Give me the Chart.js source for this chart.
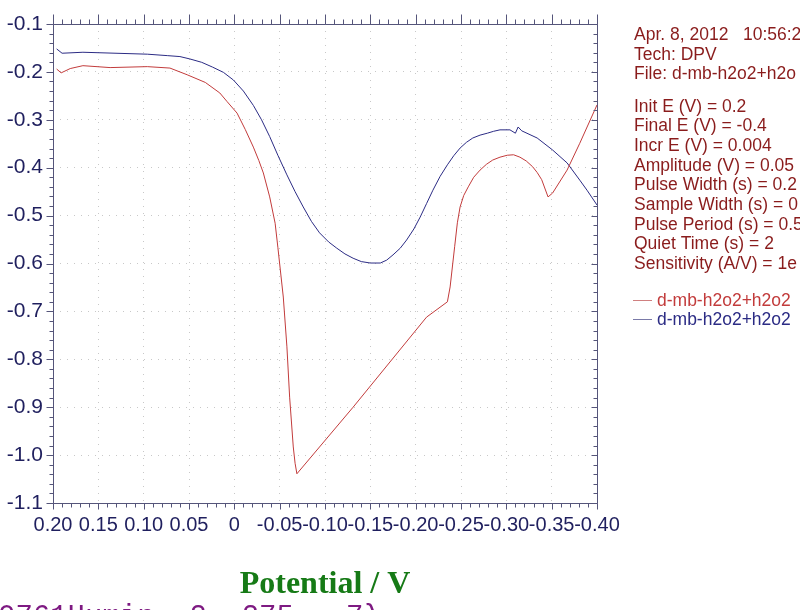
<!DOCTYPE html>
<html><head><meta charset="utf-8">
<script src="https://cdn.jsdelivr.net/npm/chart.js@4"></script>
<style>html,body{margin:0;padding:0;background:#fff;overflow:hidden}canvas{display:block}</style>
</head><body>
<canvas id="c" width="800" height="610"></canvas>
<script>
// ---- data (potential V, current) ----
const redV = [0.196, 0.191, 0.181, 0.167, 0.137, 0.096, 0.071, 0.052, 0.032, 0.016, 0.008, -0.003, -0.012, -0.021, -0.027, -0.032, -0.039, -0.045, -0.048, -0.054, -0.058, -0.061, -0.065, -0.067, -0.069, -0.131, -0.212, -0.235, -0.238, -0.243, -0.246, -0.249, -0.253, -0.258, -0.264, -0.271, -0.278, -0.285, -0.293, -0.301, -0.308, -0.315, -0.322, -0.329, -0.334, -0.339, -0.346, -0.351, -0.367, -0.381, -0.400];
const redI = [-0.194, -0.202, -0.193, -0.187, -0.191, -0.189, -0.192, -0.206, -0.222, -0.244, -0.262, -0.286, -0.320, -0.357, -0.385, -0.411, -0.461, -0.516, -0.566, -0.670, -0.774, -0.879, -0.983, -1.017, -1.039, -0.900, -0.712, -0.680, -0.649, -0.565, -0.515, -0.482, -0.458, -0.440, -0.420, -0.405, -0.393, -0.384, -0.378, -0.374, -0.373, -0.378, -0.386, -0.398, -0.410, -0.425, -0.461, -0.453, -0.405, -0.349, -0.269];
const blueV = [0.196, 0.190, 0.167, 0.096, 0.074, 0.060, 0.049, 0.036, 0.024, 0.012, 0.001, -0.010, -0.021, -0.030, -0.039, -0.048, -0.058, -0.067, -0.076, -0.085, -0.094, -0.104, -0.113, -0.122, -0.131, -0.140, -0.150, -0.161, -0.168, -0.175, -0.183, -0.190, -0.198, -0.205, -0.212, -0.219, -0.227, -0.235, -0.242, -0.249, -0.256, -0.263, -0.271, -0.279, -0.286, -0.293, -0.304, -0.310, -0.313, -0.317, -0.334, -0.351, -0.367, -0.381, -0.389, -0.394, -0.400];
const blueI = [-0.152, -0.161, -0.159, -0.163, -0.166, -0.168, -0.173, -0.180, -0.190, -0.201, -0.217, -0.240, -0.270, -0.300, -0.335, -0.374, -0.415, -0.450, -0.482, -0.512, -0.536, -0.555, -0.568, -0.580, -0.589, -0.596, -0.599, -0.599, -0.593, -0.582, -0.568, -0.551, -0.528, -0.503, -0.475, -0.447, -0.418, -0.394, -0.375, -0.359, -0.347, -0.338, -0.332, -0.328, -0.324, -0.321, -0.321, -0.328, -0.315, -0.323, -0.338, -0.363, -0.390, -0.426, -0.447, -0.461, -0.478];

const xTickValues = [0.20, 0.15, 0.10, 0.05, 0, -0.05, -0.10, -0.15, -0.20, -0.25, -0.30, -0.35, -0.40];
const xTickLabels = ['0.20', '0.15', '0.10', '0.05', '0', '-0.05', '-0.10', '-0.15', '-0.20', '-0.25', '-0.30', '-0.35', '-0.40'];
const yTickValues = [-0.1, -0.2, -0.3, -0.4, -0.5, -0.6, -0.7, -0.8, -0.9, -1.0, -1.1];
const yTickLabels = ['-0.1', '-0.2', '-0.3', '-0.4', '-0.5', '-0.6', '-0.7', '-0.8', '-0.9', '-1.0', '-1.1'];

const seriesNames = ['d-mb-h2o2+h2o2 ', 'd-mb-h2o2+h2o2 '];
const headerLines = ['Apr. 8, 2012   10:56:2', 'Tech: DPV', 'File: d-mb-h2o2+h2o'];
const paramLines = ['Init E (V) = 0.2', 'Final E (V) = -0.4', 'Incr E (V) = 0.004', 'Amplitude (V) = 0.05', 'Pulse Width (s) = 0.2', 'Sample Width (s) = 0', 'Pulse Period (s) = 0.5', 'Quiet Time (s) = 2', 'Sensitivity (A/V) = 1e'];
const xTitle = 'Potential / V';
const footerText = '0761Humin  2, 275   7λ';

// ---- styles ----
const RED = '#c23b3b';
const BLUE = '#2b2b84';
const AXIS = '#55557a';
const TICKTXT = '#1f1f5e';
const INFO = '#8a1c1c';
const GRID = '#c8c8c8';

const toPts = (xs, ys) => xs.map((v, i) => ({x: v, y: ys[i]}));

const decor = {
  id: 'decor',
  afterDatasetsDraw(chart) {
    const {ctx, chartArea: a, scales: {x, y}} = chart;
    ctx.save();
    ctx.strokeStyle = AXIS;
    ctx.lineWidth = 1;
    ctx.beginPath();
    const L = Math.round(a.left) + 0.5, R = Math.round(a.right) + 0.5;
    const T = Math.round(a.top) + 0.5, B = Math.round(a.bottom) + 0.5;
    ctx.rect(L, T, R - L, B - T);
    const nx = Math.round((x.max - x.min) / 0.01);
    for (let i = 0; i <= nx; i++) {
      const v = x.min + i * 0.01;
      const px = Math.round(x.getPixelForValue(v)) + 0.5;
      const major = i % 5 === 0;
      ctx.moveTo(px, T); ctx.lineTo(px, T - (major ? 10 : 5));
      ctx.moveTo(px, B); ctx.lineTo(px, B + (major ? 6 : 4));
    }
    const ny = Math.round((y.max - y.min) / 0.02);
    for (let i = 0; i <= ny; i++) {
      const v = y.min + i * 0.02;
      const py = Math.round(y.getPixelForValue(v)) + 0.5;
      const major = i % 5 === 0;
      ctx.moveTo(L, py); ctx.lineTo(L - (major ? 7 : 4), py);
      ctx.moveTo(R, py); ctx.lineTo(R - (major ? 6 : 4), py);
    }
    ctx.stroke();

    // info panel
    ctx.font = '17.5px "Liberation Sans", Arial, sans-serif';
    ctx.fillStyle = INFO;
    ctx.textAlign = 'left';
    ctx.textBaseline = 'alphabetic';
    const tx = 634;
    headerLines.forEach((s, i) => ctx.fillText(s, tx, 40 + i * 19.6));
    paramLines.forEach((s, i) => ctx.fillText(s, tx, 111.5 + i * 19.7));

    // legend
    const cols = [RED, BLUE];
    const samp = ['#d08080', '#7a7aa8'];
    seriesNames.forEach((s, i) => {
      const by = 306 + i * 19;
      ctx.strokeStyle = samp[i];
      ctx.beginPath();
      ctx.moveTo(633, by - 5.5); ctx.lineTo(652, by - 5.5);
      ctx.stroke();
      ctx.fillStyle = cols[i];
      ctx.fillText(s, 657, by);
    });

    // footer (cut at bottom)
    ctx.font = '29px "Liberation Mono", "Courier New", monospace';
    ctx.fillStyle = '#7e1a82';
    ctx.fillText(footerText, -2, 625);
    ctx.restore();
  }
};

new Chart(document.getElementById('c'), {
  type: 'line',
  data: {
    datasets: [
      {label: seriesNames[0], data: toPts(redV, redI), borderColor: RED, borderWidth: 1, pointRadius: 0, tension: 0, fill: false},
      {label: seriesNames[1], data: toPts(blueV, blueI), borderColor: BLUE, borderWidth: 1, pointRadius: 0, tension: 0, fill: false}
    ]
  },
  options: {
    responsive: false,
    animation: false,
    devicePixelRatio: 1,
    layout: {padding: {left: 0, right: 203, top: 24, bottom: 0}},
    plugins: {legend: {display: false}, tooltip: {enabled: false}, title: {display: false}},
    scales: {
      x: {
        type: 'linear', reverse: true, min: -0.4, max: 0.2,
        afterBuildTicks: s => { s.ticks = xTickValues.map(v => ({value: v})); },
        afterFit: s => { s.height = 107; },
        ticks: {
          autoSkip: false, maxRotation: 0, minRotation: 0, padding: 10,
          color: TICKTXT,
          font: {family: '"Liberation Sans", Arial, sans-serif', size: 20},
          callback: (v, i) => xTickLabels[i]
        },
        grid: {color: GRID, drawTicks: false, lineWidth: 1},
        border: {display: false, dash: [1, 6]},
        title: {
          display: true, text: xTitle, color: '#167a16',
          font: {family: '"Liberation Serif", "Times New Roman", serif', size: 32, weight: 'bold'},
          padding: {top: 0, bottom: 6}
        }
      },
      y: {
        type: 'linear', min: -1.1, max: -0.1,
        afterBuildTicks: s => { s.ticks = yTickValues.map(v => ({value: v})); },
        afterFit: s => { s.width = 53; },
        ticks: {
          autoSkip: false, padding: 10, color: TICKTXT,
          font: {family: '"Liberation Sans", Arial, sans-serif', size: 21},
          callback: (v, i) => yTickLabels[i]
        },
        grid: {color: GRID, drawTicks: false, lineWidth: 1},
        border: {display: false, dash: [1, 6]}
      }
    }
  },
  plugins: [decor]
});
</script>
</body></html>
